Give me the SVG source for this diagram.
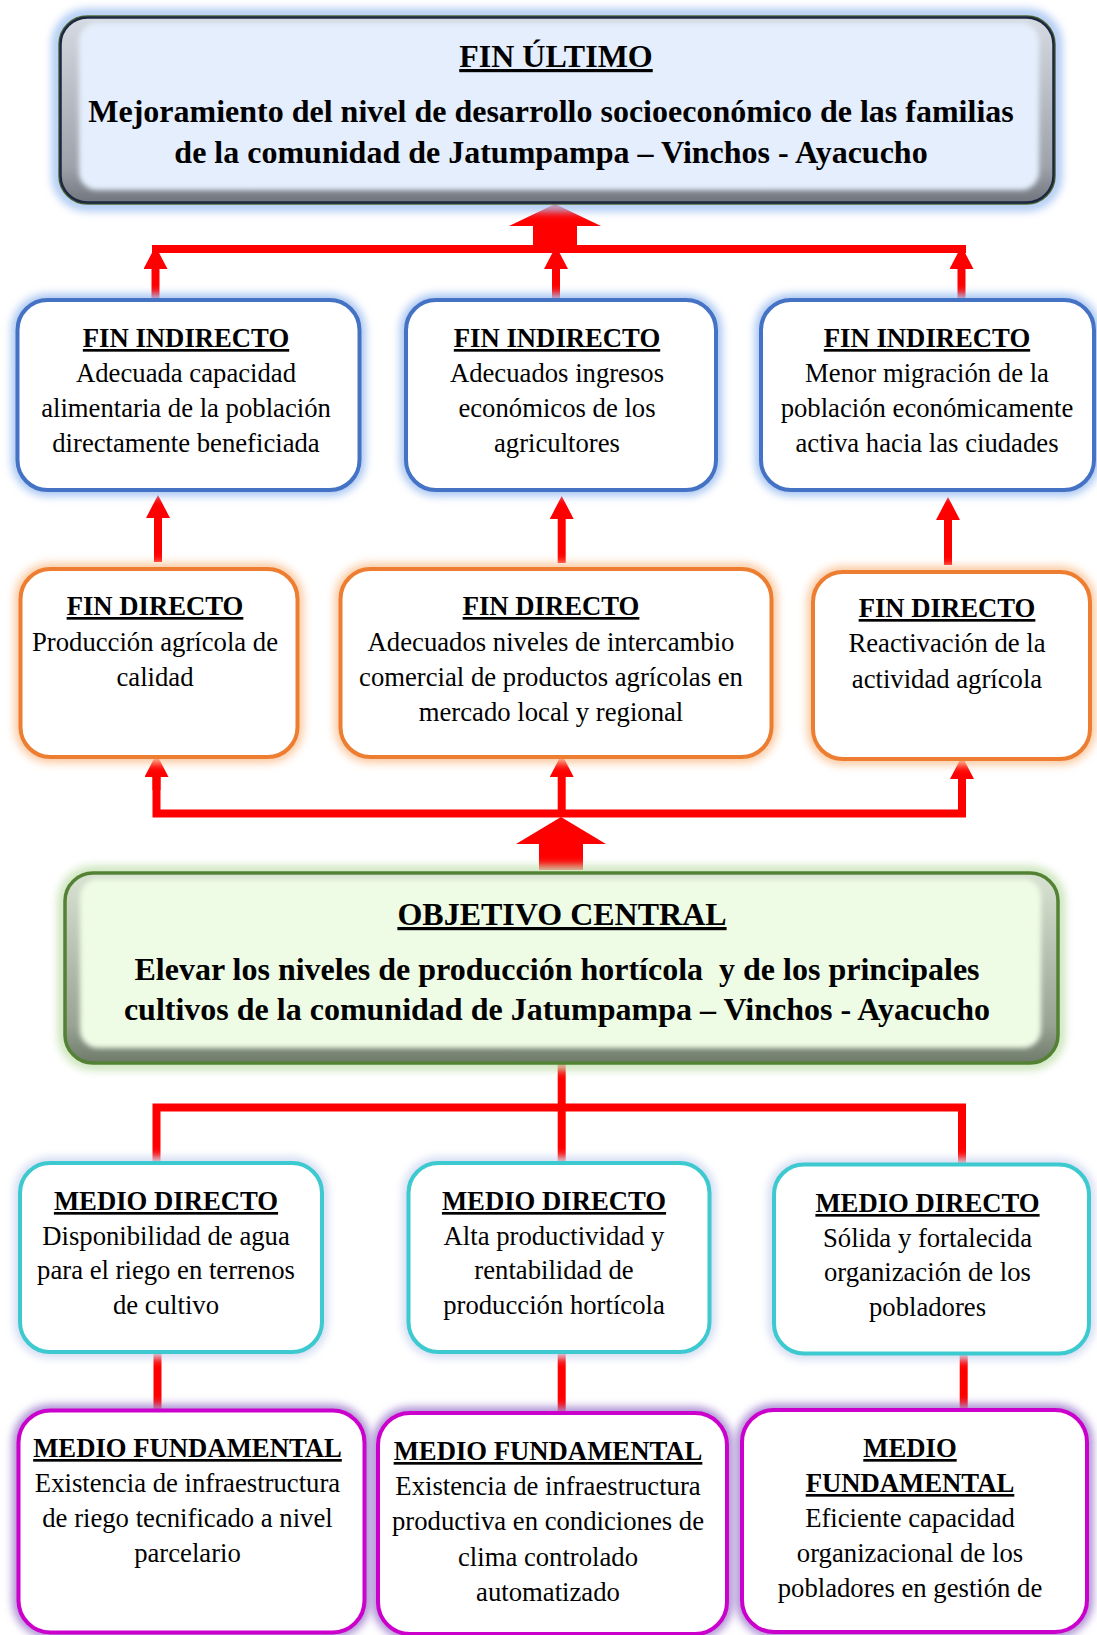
<svg xmlns="http://www.w3.org/2000/svg" width="1097" height="1635" viewBox="0 0 1097 1635">
<style>
text{font-family:"Liberation Serif","Times New Roman",serif;fill:#000;text-anchor:middle;white-space:pre}
.t{font-weight:bold;font-size:26.7px;text-decoration:underline}
.b{font-size:26.7px}
.bt{font-weight:bold;font-size:32px;text-decoration:underline}
.bb{font-weight:bold;font-size:32px}
.box{fill:#fff;stroke-width:4}
.glow{fill:none;stroke-width:12;filter:url(#blur)}
.blue{stroke:#4472c4}.blueg{stroke:#a6c4f2}
.orange{stroke:#ed7d31}.orangeg{stroke:#fbc9a0}
.teal{stroke:#3cc9cf}.tealg{stroke:#d3dcf2}
.mag{stroke:#cc00cc}.magg{stroke:#a98bd2}
.red{stroke:#ff0000;fill:none;stroke-width:8}
</style>
<defs>
<filter id="blur" x="-10%" y="-10%" width="120%" height="120%"><feGaussianBlur stdDeviation="4"/></filter>
<filter id="soft" x="-5%" y="-10%" width="110%" height="120%"><feGaussianBlur stdDeviation="2.5"/></filter>
<marker id="ah" viewBox="0 0 23 24" refX="0" refY="12" markerWidth="23" markerHeight="24" markerUnits="userSpaceOnUse" orient="auto"><path d="M0,0 L23,12 L0,24 Z" fill="#ff0000"/></marker>
<linearGradient id="bevB" x1="0" y1="0" x2="0" y2="1"><stop offset="0" stop-color="#d6dbe3"/><stop offset="0.8" stop-color="#9ea3ab"/><stop offset="1" stop-color="#6f747c"/></linearGradient>
<linearGradient id="bevG" x1="0" y1="0" x2="0" y2="1"><stop offset="0" stop-color="#d9e3d2"/><stop offset="0.8" stop-color="#98a394"/><stop offset="1" stop-color="#6e7a6a"/></linearGradient>
</defs>

<g id="connectors">
<polygon points="533,253 533,226 509,226 555,204 601,226 577,226 577,253" fill="#ff0000"/>
<polyline class="red" points="152,249 966,249"/>
<line class="red" x1="155.5" y1="298" x2="155.5" y2="269" marker-end="url(#ah)"/>
<line class="red" x1="556" y1="298" x2="556" y2="269" marker-end="url(#ah)"/>
<line class="red" x1="961.5" y1="298" x2="961.5" y2="269" marker-end="url(#ah)"/>
<line class="red" x1="158" y1="562" x2="158" y2="518" marker-end="url(#ah)"/>
<line class="red" x1="561.7" y1="563" x2="561.7" y2="519" marker-end="url(#ah)"/>
<line class="red" x1="948" y1="565" x2="948" y2="520" marker-end="url(#ah)"/>
<polyline class="red" points="156.5,777 156.5,813.5 962,813.5 962,779" marker-end="url(#ah)"/>
<line class="red" x1="156.5" y1="790" x2="156.5" y2="777" marker-end="url(#ah)"/>
<line class="red" x1="561.7" y1="814" x2="561.7" y2="777" marker-end="url(#ah)"/>
<polygon points="539,870 539,844 516,844 561,817 606,844 583,844 583,870" fill="#ff0000"/>
<line class="red" x1="561.7" y1="1062" x2="561.7" y2="1163"/>
<polyline class="red" points="156.5,1163 156.5,1107.5 962,1107.5 962,1164"/>
<line class="red" x1="157.5" y1="1352" x2="157.5" y2="1412"/>
<line class="red" x1="561.7" y1="1352" x2="561.7" y2="1414"/>
<line class="red" x1="963.7" y1="1353" x2="963.7" y2="1411"/>
</g>

<g id="fin-ultimo">
<rect x="57" y="14" width="1000" height="192" rx="30" fill="none" stroke="#a9c6f3" stroke-width="10" filter="url(#blur)"/>
<rect x="59" y="16" width="996" height="188" rx="28" fill="url(#bevB)" stroke="#4f6b35" stroke-width="1.5"/>
<rect x="60.5" y="17.5" width="993" height="185" rx="27" fill="none" stroke="#1d2740" stroke-width="2.5"/>
<rect x="79" y="23" width="960" height="167" rx="18" fill="#e4eefc" filter="url(#soft)"/>
<text class="bt" x="556" y="67">FIN ÚLTIMO</text>
<text class="bb" x="551" y="122">Mejoramiento del nivel de desarrollo socioeconómico de las familias</text>
<text class="bb" x="551" y="163">de la comunidad de Jatumpampa – Vinchos - Ayacucho</text>
</g>

<g id="fin-indirecto-1">
<rect class="glow blueg" x="17.5" y="300" width="342" height="190" rx="30"/>
<rect class="box blue" x="17.5" y="300" width="342" height="190" rx="30"/>
<text class="t" x="186" y="347">FIN INDIRECTO</text>
<text class="b" x="186" y="382">Adecuada capacidad</text>
<text class="b" x="186" y="417">alimentaria de la población</text>
<text class="b" x="186" y="452">directamente beneficiada</text>
</g>
<g id="fin-indirecto-2">
<rect class="glow blueg" x="406" y="300" width="310" height="190" rx="30"/>
<rect class="box blue" x="406" y="300" width="310" height="190" rx="30"/>
<text class="t" x="557" y="347">FIN INDIRECTO</text>
<text class="b" x="557" y="382">Adecuados ingresos</text>
<text class="b" x="557" y="417">económicos de los</text>
<text class="b" x="557" y="452">agricultores</text>
</g>
<g id="fin-indirecto-3">
<rect class="glow blueg" x="761" y="300" width="333" height="190" rx="30"/>
<rect class="box blue" x="761" y="300" width="333" height="190" rx="30"/>
<text class="t" x="927" y="347">FIN INDIRECTO</text>
<text class="b" x="927" y="382">Menor migración de la</text>
<text class="b" x="927" y="417">población económicamente</text>
<text class="b" x="927" y="452">activa hacia las ciudades</text>
</g>

<g id="fin-directo-1">
<rect class="glow orangeg" x="20.5" y="569" width="277" height="188" rx="30"/>
<rect class="box orange" x="20.5" y="569" width="277" height="188" rx="30"/>
<text class="t" x="155" y="615">FIN DIRECTO</text>
<text class="b" x="155" y="651">Producción agrícola de</text>
<text class="b" x="155" y="686">calidad</text>
</g>
<g id="fin-directo-2">
<rect class="glow orangeg" x="340.5" y="569" width="431" height="188" rx="30"/>
<rect class="box orange" x="340.5" y="569" width="431" height="188" rx="30"/>
<text class="t" x="551" y="615">FIN DIRECTO</text>
<text class="b" x="551" y="651">Adecuados niveles de intercambio</text>
<text class="b" x="551" y="686">comercial de productos agrícolas en</text>
<text class="b" x="551" y="721">mercado local y regional</text>
</g>
<g id="fin-directo-3">
<rect class="glow orangeg" x="813" y="572" width="277" height="187" rx="30"/>
<rect class="box orange" x="813" y="572" width="277" height="187" rx="30"/>
<text class="t" x="947" y="617">FIN DIRECTO</text>
<text class="b" x="947" y="652">Reactivación de la</text>
<text class="b" x="947" y="688">actividad agrícola</text>
</g>

<g id="objetivo-central">
<rect x="63" y="871" width="997" height="194" rx="30" fill="none" stroke="#c9e3b8" stroke-width="10" filter="url(#blur)"/>
<rect x="65" y="873" width="993" height="190" rx="28" fill="url(#bevG)" stroke="#548235" stroke-width="3.5"/>
<rect x="80" y="879" width="961" height="169" rx="18" fill="#eefbe5" filter="url(#soft)"/>
<text class="bt" x="562" y="925">OBJETIVO CENTRAL</text>
<text class="bb" x="557" y="980">Elevar los niveles de producción hortícola  y de los principales</text>
<text class="bb" x="557" y="1020">cultivos de la comunidad de Jatumpampa – Vinchos - Ayacucho</text>
</g>

<g id="medio-directo-1">
<rect class="glow tealg" x="20" y="1163" width="302" height="189" rx="30"/>
<rect class="box teal" x="20" y="1163" width="302" height="189" rx="30"/>
<text class="t" x="166" y="1210">MEDIO DIRECTO</text>
<text class="b" x="166" y="1245">Disponibilidad de agua</text>
<text class="b" x="166" y="1279">para el riego en terrenos</text>
<text class="b" x="166" y="1314">de cultivo</text>
</g>
<g id="medio-directo-2">
<rect class="glow tealg" x="408.5" y="1163" width="301" height="189" rx="30"/>
<rect class="box teal" x="408.5" y="1163" width="301" height="189" rx="30"/>
<text class="t" x="554" y="1210">MEDIO DIRECTO</text>
<text class="b" x="554" y="1245">Alta productividad y</text>
<text class="b" x="554" y="1279">rentabilidad de</text>
<text class="b" x="554" y="1314">producción hortícola</text>
</g>
<g id="medio-directo-3">
<rect class="glow tealg" x="774" y="1164.5" width="315" height="189" rx="30"/>
<rect class="box teal" x="774" y="1164.5" width="315" height="189" rx="30"/>
<text class="t" x="927.5" y="1212">MEDIO DIRECTO</text>
<text class="b" x="927.5" y="1247">Sólida y fortalecida</text>
<text class="b" x="927.5" y="1281">organización de los</text>
<text class="b" x="927.5" y="1316">pobladores</text>
</g>

<g id="medio-fundamental-1">
<rect class="glow magg" x="18.5" y="1410.5" width="346" height="222" rx="32"/>
<rect class="box mag" x="18.5" y="1410.5" width="346" height="222" rx="32"/>
<text class="t" x="187.5" y="1457">MEDIO FUNDAMENTAL</text>
<text class="b" x="187.5" y="1492">Existencia de infraestructura</text>
<text class="b" x="187.5" y="1527">de riego tecnificado a nivel</text>
<text class="b" x="187.5" y="1562">parcelario</text>
</g>
<g id="medio-fundamental-2">
<rect class="glow magg" x="378" y="1413" width="349" height="221" rx="32"/>
<rect class="box mag" x="378" y="1413" width="349" height="221" rx="32"/>
<text class="t" x="548" y="1460">MEDIO FUNDAMENTAL</text>
<text class="b" x="548" y="1495">Existencia de infraestructura</text>
<text class="b" x="548" y="1530">productiva en condiciones de</text>
<text class="b" x="548" y="1566">clima controlado</text>
<text class="b" x="548" y="1601">automatizado</text>
</g>
<g id="medio-fundamental-3">
<rect class="glow magg" x="742" y="1410" width="345" height="222" rx="32"/>
<rect class="box mag" x="742" y="1410" width="345" height="222" rx="32"/>
<text class="t" x="910" y="1457">MEDIO</text>
<text class="t" x="910" y="1492">FUNDAMENTAL</text>
<text class="b" x="910" y="1527">Eficiente capacidad</text>
<text class="b" x="910" y="1562">organizacional de los</text>
<text class="b" x="910" y="1597">pobladores en gestión de</text>
</g>
</svg>
